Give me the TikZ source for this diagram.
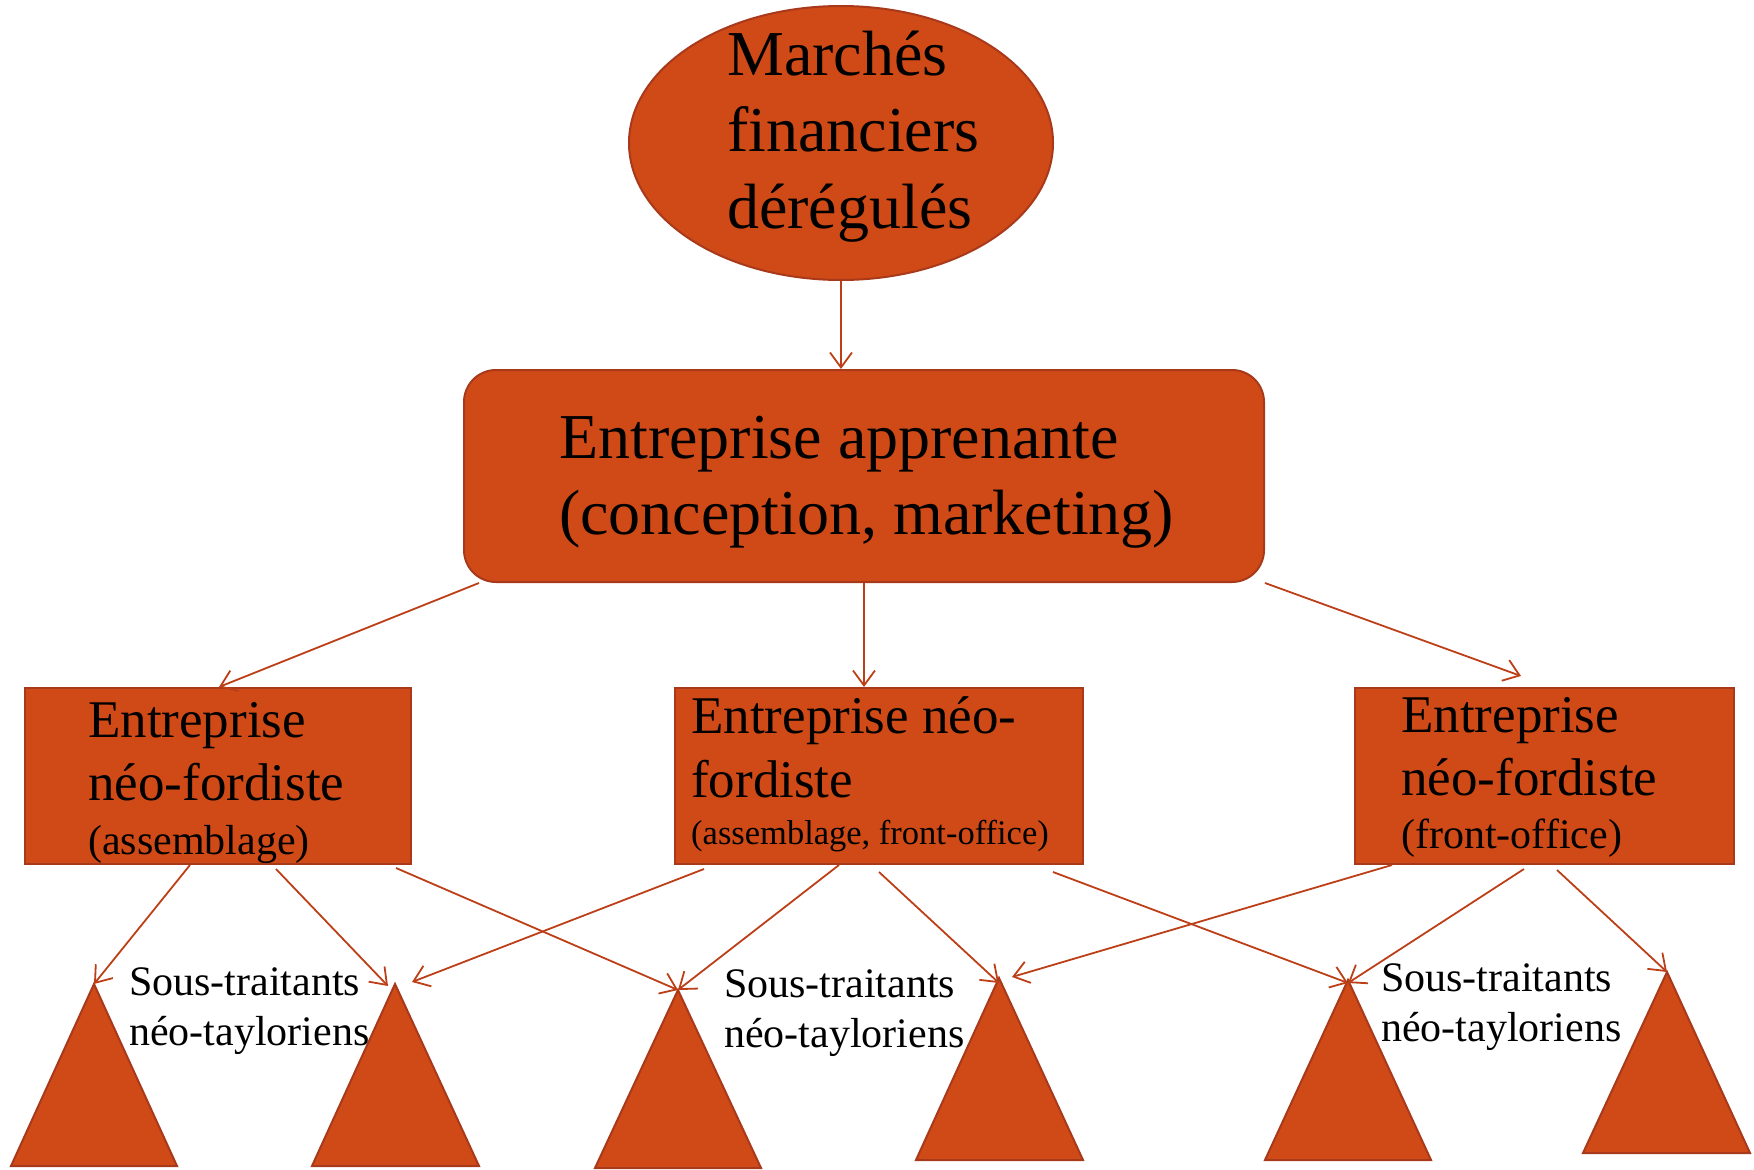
\documentclass[tikz,border=0pt]{standalone}
\usepackage{fontspec}
\setmainfont{Liberation Serif}
\usetikzlibrary{shapes.geometric,arrows.meta}
\definecolor{OrgFill}{HTML}{D04A17}
\definecolor{OrgLine}{HTML}{A8391A}
\definecolor{ArrC}{HTML}{BC3F18}
\tikzset{
  shapebox/.style={fill=OrgFill, draw=OrgLine, line width=2pt},
  tri/.style={fill=OrgFill, draw=OrgLine, line width=2pt, line join=miter},
  arr/.style={draw=ArrC, line width=1.8pt, -{Straight Barb[length=15pt,width=22pt]}},
  txt/.style={inner sep=0pt, anchor=base west, text=black},
}
\begin{document}
\begin{tikzpicture}[x=1pt,y=-1pt]
\useasboundingbox (0,0) rectangle (1754,1170);
% top ellipse
\node[shapebox, ellipse, minimum width=424pt, minimum height=274pt, inner sep=0pt] (fin) at (841,143) {};
\node[txt, font=\fontsize{64}{76.5}\selectfont] (fint) at (727,75)
  {\begin{tabular}[t]{@{}l@{}}Marchés\\financiers\\dérégulés\end{tabular}};
% big rounded box
\node[shapebox, rectangle, rounded corners=32pt, minimum width=800pt, minimum height=212pt, inner sep=0pt] (app) at (864,476) {};
\node[txt, font=\fontsize{64}{76}\selectfont] (appt) at (559,458)
  {\begin{tabular}[t]{@{}l@{}}Entreprise apprenante\\(conception, marketing)\end{tabular}};
% three neo-fordist boxes
\node[shapebox, rectangle, minimum width=386pt, minimum height=176pt, inner sep=0pt] (lb) at (218,776) {};
\node[shapebox, rectangle, minimum width=408pt, minimum height=176pt, inner sep=0pt] (mb) at (879,776) {};
\node[shapebox, rectangle, minimum width=379pt, minimum height=176pt, inner sep=0pt] (rb) at (1544.5,776) {};
\node[txt, font=\fontsize{53}{63}\selectfont] (lbt) at (88,737)
  {\begin{tabular}[t]{@{}l@{}}Entreprise\\néo-fordiste\\[-9pt]{\fontsize{42}{50}\selectfont(assemblage)}\end{tabular}};
\node[txt, font=\fontsize{53}{64}\selectfont] (mbt) at (691,733)
  {\begin{tabular}[t]{@{}l@{}}Entreprise néo-\\fordiste\\[-17pt]{\fontsize{34.5}{40}\selectfont(assemblage, front-office)}\end{tabular}};
\node[txt, font=\fontsize{53}{63}\selectfont] (rbt) at (1401,732)
  {\begin{tabular}[t]{@{}l@{}}Entreprise\\néo-fordiste\\[-10pt]{\fontsize{42}{50}\selectfont(front-office)}\end{tabular}};
% triangles
\coordinate (t1) at (94,984);
\coordinate (t2) at (395,984);
\coordinate (t3) at (678,990);
\coordinate (t4) at (999,978);
\coordinate (t5) at (1348,980);
\coordinate (t6) at (1667,972);
\draw[tri] (t1) -- (11,1166) -- (177,1166) -- cycle;
\draw[tri] (t2) -- (312,1166) -- (479,1166) -- cycle;
\draw[tri] (t3) -- (595,1168) -- (761,1168) -- cycle;
\draw[tri] (t4) -- (916,1160) -- (1083,1160) -- cycle;
\draw[tri] (t5) -- (1265,1160) -- (1431,1160) -- cycle;
\draw[tri] (t6) -- (1583,1153) -- (1750,1153) -- cycle;
% labels
\node[txt, font=\fontsize{42}{50}\selectfont] (l1) at (129,995)
  {\begin{tabular}[t]{@{}l@{}}Sous-traitants\\néo-tayloriens\end{tabular}};
\node[txt, font=\fontsize{42}{50}\selectfont] (l2) at (724,997)
  {\begin{tabular}[t]{@{}l@{}}Sous-traitants\\néo-tayloriens\end{tabular}};
\node[txt, font=\fontsize{42}{50}\selectfont] (l3) at (1381,991)
  {\begin{tabular}[t]{@{}l@{}}Sous-traitants\\néo-tayloriens\end{tabular}};
% connectors top
\draw[arr] (fin.south) -- (fin.south |- app.north);
\coordinate (s1) at (479,583);
\coordinate (e1) at (219,687);
\coordinate (s3) at (1265,583);
\coordinate (e3) at (1521,676);
\draw[arr] (s1) -- (e1);
\draw[arr] (app.south) -- (app.south |- mb.north);
\draw[arr] (s3) -- (e3);
% connectors bottom
\coordinate (la) at (190,865);
\coordinate (lbb) at (276,869);
\coordinate (lc) at (396,868);
\coordinate (md) at (704,869);
\coordinate (me) at (839,865);
\coordinate (mf) at (879,872);
\coordinate (mg) at (1053,872);
\coordinate (rh) at (1392,865);
\coordinate (ri) at (1524,869);
\coordinate (rj) at (1557,870);
\coordinate (t2r) at (412,982);
\coordinate (t4l) at (1012,977);
\draw[arr] (la) -- (t1);
\draw[arr] (lbb) -- ([xshift=-7pt,yshift=-2pt]t2);
\draw[arr] (lc) -- (t3);
\draw[arr] (md) -- (t2r);
\draw[arr] (me) -- (t3);
\draw[arr] (mf) -- ([yshift=-5pt]t4);
\draw[arr] (mg) -- ([yshift=-3pt]t5);
\draw[arr] (rh) -- (t4l);
\draw[arr] (ri) -- ([yshift=-3pt]t5);
\draw[arr] (rj) -- (t6);
\end{tikzpicture}
\end{document}
